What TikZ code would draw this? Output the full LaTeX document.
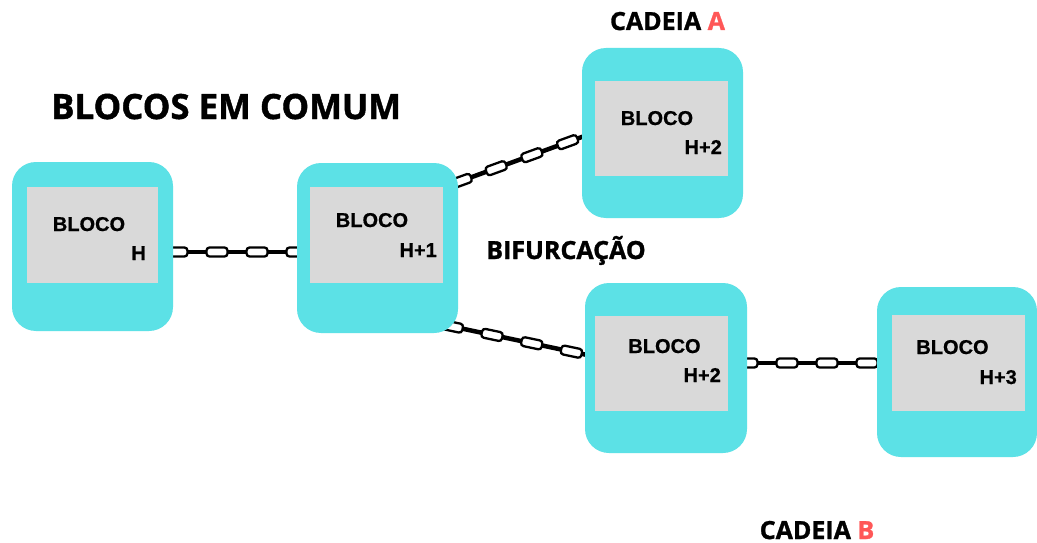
\documentclass[tikz,border=0pt]{standalone}
\usepackage{fontspec}
\setmainfont{Open Sans}[BoldFeatures={FakeBold=1.2}]
\newfontfamily\blockfont{Liberation Sans}[BoldFeatures={FakeBold=0.6}]
\definecolor{blockcyan}{HTML}{5CE1E6}
\definecolor{blockgrey}{HTML}{D9D9D9}
\definecolor{chainred}{HTML}{FF5757}
\begin{document}
\begin{tikzpicture}[x=1pt,y=-1pt,
  outerbox/.style={fill=blockcyan, draw=none, rounded corners=24pt, inner sep=0pt},
  innerbox/.style={fill=blockgrey, draw=none, inner sep=0pt},
  bloco/.style={font=\blockfont\bfseries\fontsize{20}{21}\selectfont, inner sep=0pt, anchor=base},
  hlabel/.style={font=\blockfont\bfseries\fontsize{20}{21}\selectfont, inner sep=0pt, anchor=base east},
  chainline/.style={draw=black, line width=4.5pt},
  chainlink/.style={draw=black, fill=white, line width=2.3pt, rounded corners=3pt, minimum width=21pt, minimum height=9pt, inner sep=0pt, sloped},
  heading/.style={font=\bfseries\fontsize{25}{28}\selectfont, inner sep=0pt, anchor=base},
]
\useasboundingbox (0,0) rectangle (1037,543);
\fill[white] (0,0) rectangle (1037,543);

% chain end coordinates
\coordinate (c1s) at (160,252);
\coordinate (c1e) at (310,252);
\coordinate (c2s) at (450,185);
\coordinate (c2e) at (590,134);
\coordinate (c3s) at (445,325);
\coordinate (c3e) at (592,356);
\coordinate (c4s) at (740,363);
\coordinate (c4e) at (885,363);

% chains
\draw[chainline] (c1s) -- (c1e);
\foreach \p in {0.113,0.38,0.647,0.913}
  \path (c1s) -- (c1e) node[chainlink, pos=\p] (l1-\p) {};
\draw[chainline] (c2s) -- (c2e);
\foreach \p in {0.08,0.33,0.585,0.84}
  \path (c2s) -- (c2e) node[chainlink, pos=\p] (l2-\p) {};
\draw[chainline] (c3s) -- (c3e);
\foreach \p in {0.05,0.32,0.59,0.86}
  \path (c3s) -- (c3e) node[chainlink, pos=\p] (l3-\p) {};
\draw[chainline] (c4s) -- (c4e);
\foreach \p in {0.048,0.324,0.6,0.876}
  \path (c4s) -- (c4e) node[chainlink, pos=\p] (l4-\p) {};

% block H
\node[outerbox, minimum width=161pt, minimum height=169pt] (bH) at (92.5,246.5) {};
\node[innerbox, minimum width=131pt, minimum height=96pt] (gH) at (92.5,235) {};
\node[bloco] (tH) at (89,231) {BLOCO};
\node[hlabel] (nH) at (146,260) {H};

% block H+1
\node[outerbox, minimum width=161pt, minimum height=170pt] (bH1) at (377.5,248) {};
\node[innerbox, minimum width=133pt, minimum height=96pt] (gH1) at (376.5,235) {};
\node[bloco] (tH1) at (372,227) {BLOCO};
\node[hlabel] (nH1) at (437,257) {H+1};

% block H+2 (chain A)
\node[outerbox, minimum width=161pt, minimum height=170pt] (bA) at (662.5,133) {};
\node[innerbox, minimum width=133pt, minimum height=95pt] (gA) at (661.5,128.5) {};
\node[bloco] (tA) at (657,125) {BLOCO};
\node[hlabel] (nA) at (722,154) {H+2};

% block H+2 (chain B)
\node[outerbox, minimum width=162pt, minimum height=170pt] (bB) at (666,368) {};
\node[innerbox, minimum width=133pt, minimum height=95pt] (gB) at (661.5,363.5) {};
\node[bloco] (tB) at (664.5,353) {BLOCO};
\node[hlabel] (nB) at (721,382) {H+2};

% block H+3
\node[outerbox, minimum width=160pt, minimum height=170pt] (bH3) at (957,372) {};
\node[innerbox, minimum width=133pt, minimum height=96pt] (gH3) at (958.5,363) {};
\node[bloco] (tH3) at (952.5,354) {BLOCO};
\node[hlabel] (nH3) at (1017,384) {H+3};

% headings
\node[font=\bfseries\fontsize{34.8}{38}\selectfont, inner sep=0pt, anchor=base west] (title) at (51,119) {BLOCOS EM COMUM};
\node[heading] (cadA) at (667.5,30) {CADEIA \textcolor{chainred}{A}};
\node[heading] (bif) at (566,259) {BIFURCAÇÃO};
\node[heading] (cadB) at (817,539) {CADEIA \textcolor{chainred}{B}};
\end{tikzpicture}
\end{document}
